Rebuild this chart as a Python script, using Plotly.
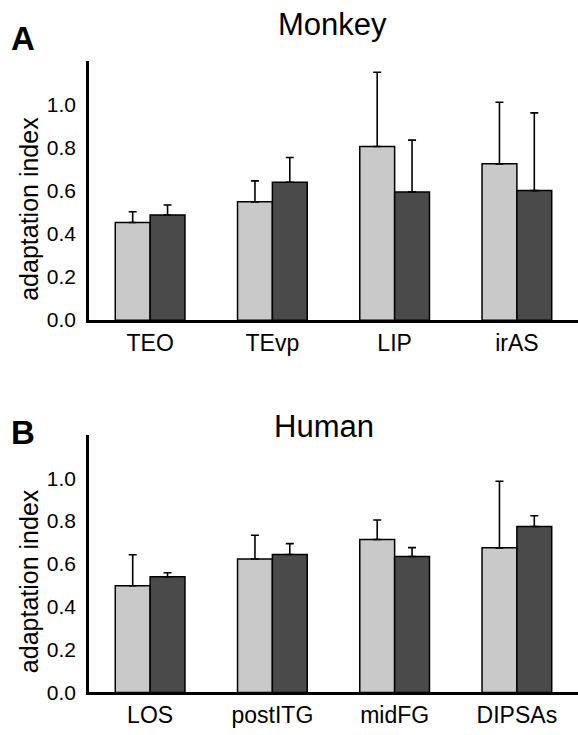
import plotly.graph_objects as go

W, H = 578, 735

monkey_regions = ["TEO", "TEvp", "LIP", "irAS"]
monkey_light = [0.452, 0.548, 0.804, 0.724]
monkey_light_err = [0.050, 0.097, 0.344, 0.285]
monkey_dark = [0.487, 0.639, 0.594, 0.600]
monkey_dark_err = [0.046, 0.114, 0.240, 0.360]

human_regions = ["LOS", "postITG", "midFG", "DIPSAs"]
human_light = [0.498, 0.623, 0.714, 0.675]
human_light_err = [0.145, 0.111, 0.091, 0.311]
human_dark = [0.540, 0.644, 0.635, 0.775]
human_dark_err = [0.019, 0.051, 0.041, 0.050]

y_ticks = [0.0, 0.2, 0.4, 0.6, 0.8, 1.0]

LIGHT = "#c9c9c9"
DARK = "#4a4a4a"
FONT = "Liberation Sans, Arial, sans-serif"

fig = go.Figure()

def add_bars(x, yl, el, yd, ed, xa, ya):
    for y, e, c in [(yl, el, LIGHT), (yd, ed, DARK)]:
        fig.add_trace(go.Bar(
            x=x, y=y, xaxis=xa, yaxis=ya,
            marker=dict(color=c, line=dict(color="black", width=1.5)),
            error_y=dict(type="data", array=e, arrayminus=[0] * len(e),
                         symmetric=False, color="black", thickness=1.6, width=4),
            showlegend=False,
        ))

add_bars(monkey_regions, monkey_light, monkey_light_err, monkey_dark, monkey_dark_err, "x", "y")
add_bars(human_regions, human_light, human_light_err, human_dark, human_dark_err, "x2", "y2")

def py(p):
    return 1 - p / H

def px(p):
    return p / W

axis_common = dict(showgrid=False, zeroline=False, showline=True, linecolor="black")
xcommon = dict(range=[-0.5, 3.5], linewidth=2.7, ticks="", ticklabelstandoff=0,
               tickfont=dict(size=23), **axis_common)
ycommon = dict(range=[0, 1.2], linewidth=2.5, tickvals=y_ticks,
               ticktext=[f"{v:.1f}" for v in y_ticks], ticks="", ticklabelstandoff=6,
               tickfont=dict(size=21), **axis_common)

fig.update_layout(
    width=W, height=H,
    margin=dict(l=0, r=0, t=0, b=0),
    paper_bgcolor="white", plot_bgcolor="white",
    barmode="group", bargap=0.43, bargroupgap=0,
    font=dict(family=FONT, color="black"),
    xaxis=dict(domain=[px(89), 1], anchor="y", **xcommon),
    yaxis=dict(domain=[py(325), py(62)], anchor="x", **ycommon),
    xaxis2=dict(domain=[px(89), 1], anchor="y2", **xcommon),
    yaxis2=dict(domain=[py(703), py(442)], anchor="x2", **ycommon),
)

ann = [
    dict(text="Monkey", x=px(333), y=py(25), size=31),
    dict(text="Human", x=px(324), y=py(433), size=31),
    dict(text="<b>A</b>", x=px(23), y=py(39), size=33),
    dict(text="<b>B</b>", x=px(23), y=py(439), size=33),
]
for a in ann:
    fig.add_annotation(text=a["text"], x=a["x"], y=a["y"], xref="paper", yref="paper",
                       showarrow=False, xanchor="center", yanchor="middle",
                       font=dict(size=a["size"], family=FONT, color="black"))

for yc in [212, 590]:
    fig.add_annotation(text="adaptation index", x=px(29), y=py(yc), xref="paper", yref="paper",
                       showarrow=False, textangle=-90, xanchor="center", yanchor="middle",
                       font=dict(size=25, family=FONT, color="black"))

fig.write_html("out.html")
